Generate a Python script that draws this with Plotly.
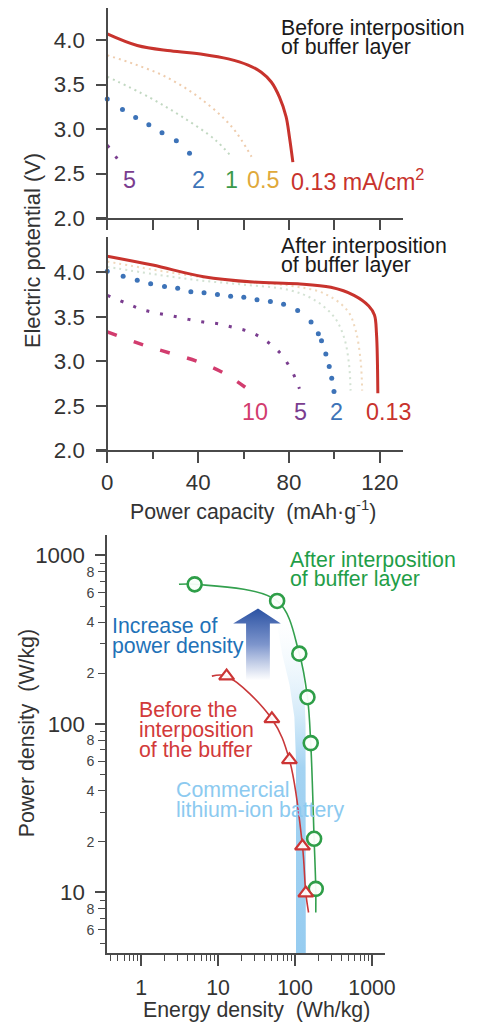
import plotly.graph_objects as go

# the page photo comes out with an 8px body margin and a slight shrink,
# so reference pixel positions are mapped through these two numbers
OFF = 8
S = 0.987
W, H = round(480 / S - OFF), round(1022 / S - OFF)
FONT = "Liberation Sans, Arial, sans-serif"
AXC = "#4a4a4a"

# ---- discharge curves (capacity mAh/g, potential V) : before buffer layer
b013_x = [0, 13.2, 27.8, 42.4, 53.3, 62, 67.8, 72.2, 75.8, 78.7, 80.2, 81.7]
b013_y = [4.07, 3.94, 3.88, 3.84, 3.79, 3.72, 3.64, 3.53, 3.36, 3.14, 2.91, 2.63]
b05_x = [0, 12, 25.6, 40.2, 54.7, 63.5]
b05_y = [3.83, 3.73, 3.59, 3.36, 3.03, 2.69]
b1_x = [0, 18.3, 32.9, 47.5, 54.7]
b1_y = [3.59, 3.36, 3.14, 2.88, 2.69]
b2_x = [0, 6.7, 12.5, 18.3, 24.1, 30.4, 36.2]
b2_y = [3.34, 3.22, 3.13, 3.05, 2.96, 2.87, 2.73]
b5_x = [0, 2.6, 5.2]
b5_y = [2.82, 2.73, 2.64]

# ---- after buffer layer
a013_x = [0, 20, 42.4, 64.2, 83.8, 98.4, 108.6, 115.1, 117.6, 118.5, 119.1]
a013_y = [4.18, 4.08, 3.95, 3.89, 3.87, 3.83, 3.74, 3.62, 3.52, 3.31, 2.64]
a05_x = [0, 20, 40, 60, 80, 95.5, 105.7, 109.3, 111.5, 112.2]
a05_y = [4.12, 4.03, 3.95, 3.89, 3.85, 3.76, 3.57, 3.35, 3.01, 2.67]
a1_x = [0, 20, 40, 60, 80, 91.1, 99.8, 104.2, 106.4, 107.1]
a1_y = [4.06, 3.98, 3.91, 3.86, 3.80, 3.69, 3.50, 3.27, 2.97, 2.67]
a2_x = [0, 7.0, 13.2, 19.1, 25.2, 31.0, 36.8, 42.6, 48.5, 54.3, 60.1, 65.9,
        71.8, 77.6, 83.8, 89.7, 92.9, 94.3, 96.2, 97.7, 98.8, 99.8]
a2_y = [4.01, 3.955, 3.91, 3.87, 3.84, 3.82, 3.78, 3.77, 3.75, 3.73, 3.72, 3.69,
        3.67, 3.64, 3.57, 3.44, 3.31, 3.23, 3.08, 2.94, 2.81, 2.66]
a5_x = [0, 8.6, 15.4, 22, 28.5, 35.8, 42.4, 48.9, 55.5, 62.7, 69.3, 75.8, 80.2, 83.1, 84.6]
a5_y = [3.74, 3.65, 3.58, 3.54, 3.51, 3.47, 3.44, 3.42, 3.38, 3.33, 3.24, 3.10, 2.94, 2.79, 2.69]
a10_x = [0, 16.2, 27.8, 39.4, 51.8, 62.7]
a10_y = [3.33, 3.18, 3.09, 3.00, 2.86, 2.67]

# ---- Ragone plot (energy Wh/kg, power W/kg)
after_E = [4.96, 58.5, 113.6, 145, 160, 177, 186]
after_P = [673, 536, 261, 144, 76.9, 20.8, 10.5]
after_line_E = [3.1] + after_E + [186]
after_line_P = [673] + after_P + [7.6]
before_E = [12.9, 50, 84.5, 125, 138]
before_P = [192, 107, 61.2, 18.8, 9.9]
before_line_E = [8.3] + before_E + [150]
before_line_P = [192] + before_P + [7.6]

# commercial Li-ion band and "increase" arrow outlines
band_E = [103, 103, 98, 85, 68, 57, 105, 118, 130, 137, 138, 103]
band_P = [4.36, 60, 110, 170, 260, 420, 440, 300, 180, 100, 4.36, 4.36]
arrow_E = [23.1, 23.1, 15.7, 33.0, 65.3, 47.1, 47.1, 23.1]
arrow_P = [181, 394, 394, 484, 394, 394, 181, 181]

x_major = [1, 10, 100, 1000]
x_minor = [m * d for d in (0.1, 1, 10, 100) for m in range(2, 10) if 0.36 < m * d < 1480]
y_small = [6, 8, 20, 40, 60, 80, 200, 400, 600, 800]
y_minor = [5, 7, 9, 30, 50, 70, 90, 300, 500, 700, 900]
y_big = [10, 100, 1000]


def px(x, y):
    return (x / S - OFF) / W, 1 - (y / S - OFF) / H


def span(a, b, axis):
    i = 0 if axis == "x" else 1
    lo, hi = sorted([px(a, a)[i], px(b, b)[i]])
    return [max(lo, 0), min(hi, 1)]


def fs(v):
    return round(v / S, 1)


fig = go.Figure()


def curve(x, y, color, width, dash, xa, ya, opacity=1.0):
    fig.add_trace(go.Scatter(x=x, y=y, mode="lines", xaxis=xa, yaxis=ya,
                             line=dict(color=color, width=width, dash=dash, shape="spline"),
                             opacity=opacity, showlegend=False, hoverinfo="skip"))


# panel 1
curve(b05_x, b05_y, "#e2a36a", 2, "2px,4px", "x", "y", 0.55)
curve(b1_x, b1_y, "#8fb98f", 2, "2px,4px", "x", "y", 0.55)
curve(b5_x, b5_y, "#7a3d8f", 3, "3px,11px", "x", "y")
fig.add_trace(go.Scatter(x=b2_x, y=b2_y, mode="markers", xaxis="x", yaxis="y",
                         marker=dict(color="#3d73b8", size=5), showlegend=False, hoverinfo="skip"))
curve(b013_x, b013_y, "#c8332d", 3, "solid", "x", "y")

# panel 2
curve(a05_x, a05_y, "#e2b27a", 2, "2px,4px", "x2", "y2", 0.5)
curve(a1_x, a1_y, "#a9c7a9", 2, "2px,4px", "x2", "y2", 0.5)
curve(a10_x, a10_y, "#d23c6e", 3.5, "10px,18px", "x2", "y2")
curve(a5_x, a5_y, "#7a3d8f", 3, "3px,11px", "x2", "y2")
fig.add_trace(go.Scatter(x=a2_x, y=a2_y, mode="markers", xaxis="x2", yaxis="y2",
                         marker=dict(color="#3d73b8", size=5), showlegend=False, hoverinfo="skip"))
curve(a013_x, a013_y, "#c8332d", 3, "solid", "x2", "y2")

# panel 3
fig.add_trace(go.Scatter(x=band_E, y=band_P, mode="lines", fill="toself", xaxis="x3", yaxis="y3",
                         line=dict(width=0), showlegend=False, hoverinfo="skip",
                         fillgradient=dict(type="vertical",
                                           colorscale=[[0, "#96ccf0"], [0.55, "#a4d3f2"],
                                                       [1, "rgba(255,255,255,0.2)"]])))
fig.add_trace(go.Scatter(x=arrow_E, y=arrow_P, mode="lines", fill="toself", xaxis="x3", yaxis="y3",
                         line=dict(width=0), showlegend=False, hoverinfo="skip",
                         fillgradient=dict(type="vertical",
                                           colorscale=[[0, "rgba(255,255,255,0.9)"], [0.5, "#7d95cc"],
                                                       [1, "#2b52a3"]])))
fig.add_trace(go.Scatter(x=after_line_E, y=after_line_P, mode="lines", xaxis="x3", yaxis="y3",
                         line=dict(color="#33a04e", width=1.6, shape="spline"),
                         showlegend=False, hoverinfo="skip"))
fig.add_trace(go.Scatter(x=before_line_E, y=before_line_P, mode="lines", xaxis="x3", yaxis="y3",
                         line=dict(color="#c9383a", width=1.6, shape="spline"),
                         showlegend=False, hoverinfo="skip"))
fig.add_trace(go.Scatter(x=after_E, y=after_P, mode="markers", xaxis="x3", yaxis="y3",
                         marker=dict(symbol="circle", size=14, color="rgba(250,255,250,0.95)",
                                     line=dict(color="#2e9e48", width=2.6)),
                         showlegend=False, hoverinfo="skip"))
fig.add_trace(go.Scatter(x=before_E, y=before_P, mode="markers", xaxis="x3", yaxis="y3",
                         marker=dict(symbol="triangle-up", size=13, color="rgba(255,250,250,0.95)",
                                     line=dict(color="#cc3535", width=2.2)),
                         showlegend=False, hoverinfo="skip"))
fig.add_trace(go.Scatter(x=[], y=[], xaxis="x3", yaxis="y4", showlegend=False))

tickfont = dict(family=FONT, size=fs(22), color="#333")
common_x = dict(range=[-5, 130], domain=span(96.5, 405.7, "x"), showline=True, linecolor=AXC,
                linewidth=2, showgrid=False, zeroline=False, ticks="outside", tickcolor=AXC,
                tickwidth=1.5)
common_y = dict(anchor="free", position=px(108, 0)[0], showline=True,
                linecolor=AXC, linewidth=2, showgrid=False, zeroline=False, ticks="outside",
                tickcolor=AXC, tickwidth=1.5, ticklen=10, dtick=0.5, tick0=2, tickformat=".1f",
                tickfont=tickfont, ticklabelstandoff=7)

fig.update_layout(
    width=W, height=H, margin=dict(l=0, r=0, t=0, b=0),
    paper_bgcolor="white", plot_bgcolor="rgba(0,0,0,0)",
    xaxis=dict(common_x, anchor="y", dtick=20, tick0=0, ticklen=10, showticklabels=False),
    yaxis=dict(common_y, range=[2.0, 4.36], domain=span(218, 8, "y")),
    xaxis2=dict(common_x, anchor="y2", dtick=40, tick0=0, ticklen=11, tickfont=tickfont,
                ticklabelstandoff=0,
                minor=dict(dtick=20, tick0=0, ticks="outside", ticklen=7, tickcolor=AXC, tickwidth=1.5)),
    yaxis2=dict(common_y, range=[2.0, 4.39], domain=span(450, 237.3, "y")),
    xaxis3=dict(type="log", range=[-0.44, 3.17], domain=span(108, 388, "x"), anchor="y3",
                showline=True, linecolor=AXC, linewidth=2, showgrid=False, zeroline=False,
                ticks="outside", tickcolor=AXC, tickwidth=1.5, ticklen=11,
                tickmode="array", tickvals=x_major, ticktext=[str(v) for v in x_major],
                tickfont=dict(family=FONT, size=fs(21), color="#333"), ticklabelstandoff=3,
                minor=dict(tickmode="array", tickvals=x_minor, ticks="outside", ticklen=6,
                           tickcolor=AXC, tickwidth=1.2)),
    yaxis3=dict(type="log", range=[0.638, 3.119], domain=span(953, 535, "y"), anchor="x3",
                showline=True, linecolor=AXC, linewidth=2, showgrid=False, zeroline=False,
                ticks="outside", tickcolor=AXC, tickwidth=1.3, ticklen=7,
                tickmode="array", tickvals=y_small, ticktext=[str(v)[0] for v in y_small],
                tickfont=dict(family=FONT, size=fs(14), color="#444"), ticklabelstandoff=1,
                minor=dict(tickmode="array", tickvals=y_minor, ticks="outside", ticklen=5,
                           tickcolor=AXC, tickwidth=1.2)),
    yaxis4=dict(type="log", range=[0.638, 3.119], overlaying="y3", anchor="x3", side="left",
                showline=False, showgrid=False, zeroline=False,
                ticks="outside", tickcolor=AXC, tickwidth=1.5, ticklen=11,
                tickmode="array", tickvals=y_big, ticktext=[str(v) for v in y_big],
                tickfont=tickfont, ticklabelstandoff=6),
)


def note(text, x, y, color, size, xanchor="left", ref=None, angle=0):
    if ref is None:
        xp, yp = px(x, y)
        kw = dict(xref="paper", yref="paper", x=xp, y=yp)
    else:
        kw = dict(xref=ref[0], yref=ref[1], x=x, y=y)
    fig.add_annotation(text=text, showarrow=False, xanchor=xanchor, yanchor="middle",
                       textangle=angle, align="left", borderpad=0,
                       font=dict(family=FONT, size=fs(size), color=color), **kw)


def block(lines, x, y0, step, color, size):
    for i, line in enumerate(lines):
        note(line, x, y0 + i * step, color, size)


# panel texts
block(["Before interposition", "of buffer layer"], 282, 27.5, 19.5, "#1a1a1a", 21)
block(["After interposition", "of buffer layer"], 282, 245.5, 19.5, "#1a1a1a", 21)
note("5", 10, 2.43, "#7a3d8f", 23, "center", ("x", "y"))
note("2", 40.2, 2.43, "#3d73b8", 23, "center", ("x", "y"))
note("1", 54.6, 2.43, "#3a9a4a", 23, "center", ("x", "y"))
note("0.5", 68.6, 2.43, "#e0a93a", 23, "center", ("x", "y"))
note("0.13 mA/cm<sup>2</sup>", 80.5, 2.43, "#c8332d", 23, "left", ("x", "y"))
note("10", 65, 2.43, "#d23c6e", 23, "center", ("x2", "y2"))
note("5", 85, 2.43, "#7a3d8f", 23, "center", ("x2", "y2"))
note("2", 101, 2.43, "#3d73b8", 23, "center", ("x2", "y2"))
note("0.13", 124, 2.43, "#c8332d", 23, "center", ("x2", "y2"))
note("Electric potential (V)", 32, 250, "#333", 21.5, "center", angle=-90)
note("Power capacity  (mAh·g<sup>-1</sup>)", 255, 510, "#333", 21, "center")

block(["After interposition", "of buffer layer"], 291, 559.5, 19.5, "#1f9e48", 21)
block(["Increase of", "power density"], 112, 625.5, 20, "#1f72b8", 21)
block(["Before the", "interposition", "of the buffer"], 139, 710, 20, "#d23a3a", 21)
block(["Commercial", "lithium-ion battery"], 176, 789.5, 20, "#8ccaf0", 21)
note("Power density  (W/kg)", 27, 733, "#333", 21, "center", angle=-90)
note("Energy density  (Wh/kg)", 258, 1010, "#333", 21, "center")

fig.write_html("out.html")
